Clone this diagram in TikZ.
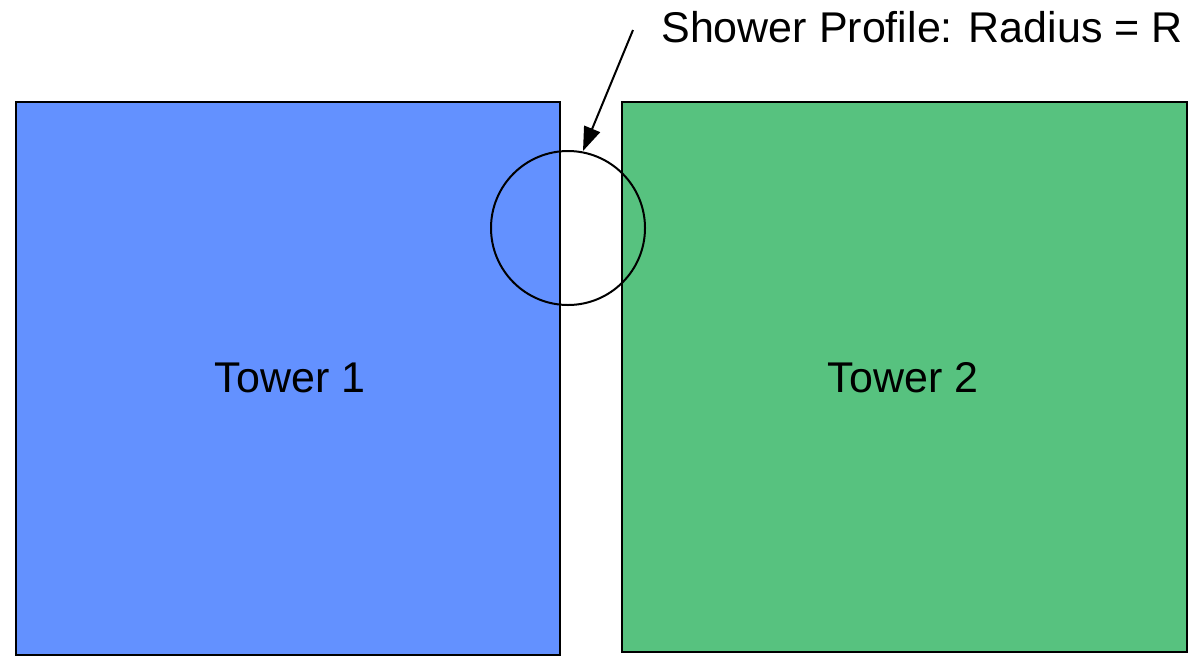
\documentclass[tikz,border=0pt]{standalone}
\usepackage{fontspec}
\setmainfont{Liberation Sans}
\usetikzlibrary{arrows.meta}
\definecolor{towerblue}{HTML}{6391FF}
\definecolor{towergreen}{HTML}{57C27F}
\begin{document}
\begin{tikzpicture}[x=1pt,y=-1pt,
  lbl/.style={font=\fontsize{43}{46}\selectfont,text=black,inner sep=0pt},
  pointer/.style={-{Triangle[length=24pt,width=17pt]},line width=2pt}]
\useasboundingbox[fill=white] (0,0) rectangle (1188,657);
\fill[towerblue,draw=black,line width=2.5pt] (16,102) rectangle (560,655);
\fill[towergreen,draw=black,line width=2.5pt] (622,102) rectangle (1187,652);
\node[lbl] (t1) at (290,378) {Tower 1};
\node[lbl] (t2) at (903,378) {Tower 2};
\node[draw=black,line width=2pt,circle,minimum size=154pt,inner sep=0pt] (shower) at (568,228) {};
\node[lbl,anchor=base east] (title) at (1183,42) {Shower Profile: Radius = R};
\coordinate (tail) at (633,30);
\draw[pointer] (tail) -- (583,151);
\end{tikzpicture}
\end{document}
